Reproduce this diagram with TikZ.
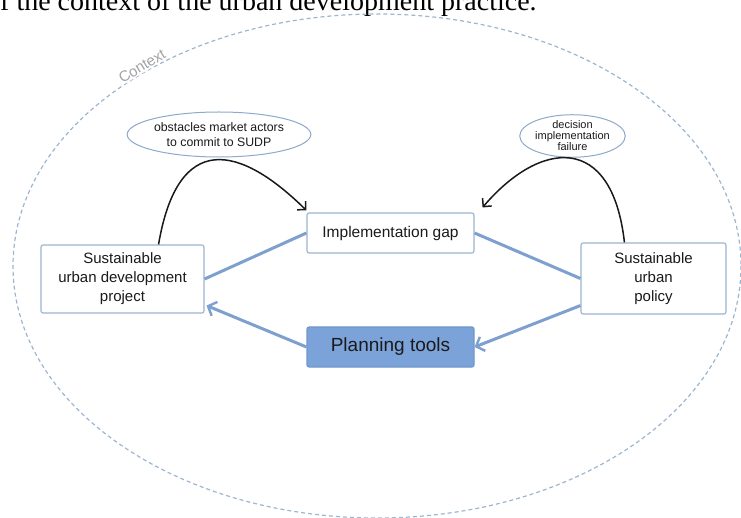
\documentclass[tikz,border=0pt]{standalone}
\usepackage{fontspec}
\setmainfont{Liberation Sans}
\newfontfamily\captionserif{Liberation Serif}
\usetikzlibrary{arrows.meta,shapes.geometric,calc}

\definecolor{boxline}{HTML}{9DB4CE}
\definecolor{linkblue}{HTML}{7DA0CE}
\definecolor{toolfill}{HTML}{7CA3D9}
\definecolor{toolline}{HTML}{6F97CC}
\definecolor{ctxline}{HTML}{9DB5CF}
\definecolor{bubbleline}{HTML}{8EA9C9}
\definecolor{ctxtext}{HTML}{A3A3A3}
\definecolor{inktext}{HTML}{1A1A1A}

\begin{document}
\begin{tikzpicture}[x=1pt,y=-1pt,
  box/.style={draw=boxline,line width=1.1pt,rounded corners=2pt,fill=white,
    align=center,inner sep=0pt,text=inktext},
  bubble/.style={ellipse,draw=bubbleline,line width=1pt,fill=white,
    align=center,inner sep=0pt,text=inktext},
  bluelink/.style={draw=linkblue,line width=3pt},
  bluearrow/.style={bluelink,-{Straight Barb[length=7pt,width=15pt,line width=2.4pt]}},
  blackarrow/.style={draw=black!90,line width=1.5pt,
    -{Straight Barb[length=6pt,width=12pt,line width=1.5pt]}},
  boxfont/.style={font=\fontsize{15}{19}\selectfont}
]
\useasboundingbox (0,0) rectangle (741,518);

% caption line of the surrounding page, cut by the top edge
\node[anchor=base west,inner sep=0pt,font=\captionserif\fontsize{28}{30}\selectfont]
  (caption) at (0,11) {f the context of the urban development practice.};

% dashed context boundary, with its label sitting on the line
\draw[ctxline,line width=1.2pt,dash pattern=on 4pt off 3pt]
  (377,266) ellipse [x radius=364,y radius=252];
\node[text=ctxtext,fill=white,rotate=31,inner sep=1pt,font=\fontsize{15}{15}\selectfont]
  (ctx) at (142,66) {Context};

% main boxes
\node[box,boxfont,minimum width=163pt,minimum height=68pt] (lbox) at (122.5,279)
  {Sustainable\\urban development\\project};
\node[box,font=\fontsize{15.5}{19}\selectfont,minimum width=167pt,minimum height=40pt]
  (gap) at (390.5,233) {Implementation gap};
\node[box,draw=toolline,fill=toolfill,font=\fontsize{19}{22}\selectfont,
  minimum width=167pt,minimum height=40pt] (tools) at (390.5,347) {Planning tools};
\node[box,boxfont,minimum width=145pt,minimum height=71pt] (rbox) at (653.5,278.5)
  {Sustainable\\urban\\policy};

% explanation bubbles
\node[bubble,font=\fontsize{12.3}{14.3}\selectfont,minimum width=152pt,minimum height=45pt]
  (bub1) at (219,134.5) {obstacles market actors\\to commit to SUDP};
\node[bubble,font=\fontsize{11}{11}\selectfont,minimum width=91pt,minimum height=42pt]
  (bub2) at (572.5,136) {decision\\implementation\\failure};

% blue links
\draw[bluelink] (gap.west) -- (lbox.east);
\draw[bluelink] (gap.east) -- (rbox.west);
\draw[bluearrow] ($(rbox.south west)+(0,-9)$) -- (tools.east);
\draw[bluearrow] (tools.west) -- ($(lbox.south east)+(2,-8)$);

% black feedback arrows
\coordinate (lstart) at ($(lbox.north east)+(-46,0)$);
\coordinate (ltip) at ($(gap.north west)+(0,-2)$);
\draw[blackarrow] (lstart) .. controls (178,130) and (240,145) .. (ltip);
\coordinate (rstart) at ($(rbox.north west)+(44,0)$);
\coordinate (rtip) at ($(gap.north east)+(8,-5)$);
\draw[blackarrow] (rstart) .. controls (612,132) and (540,140) .. (rtip);
\end{tikzpicture}
\end{document}
